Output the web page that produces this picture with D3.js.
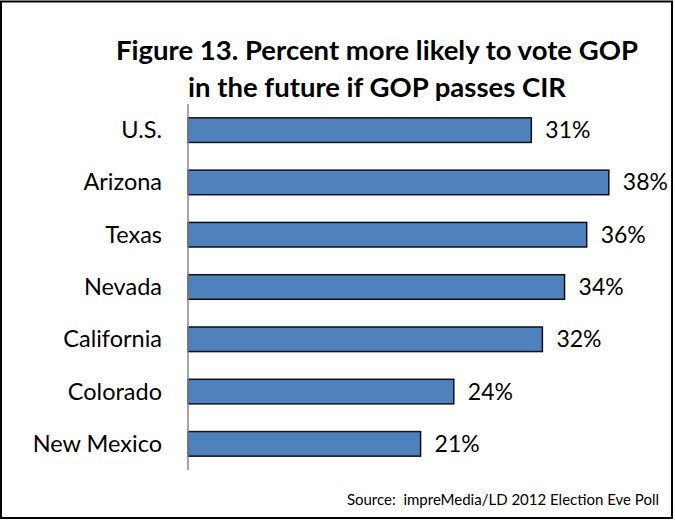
<!DOCTYPE html>
<html>
<head>
<meta charset="utf-8">
<script src="https://cdn.jsdelivr.net/npm/d3@7"></script>
<style>
  body { margin: 0; background: #fff; }
  svg text { font-family: Lato, "Open Sans", sans-serif; fill: #000; white-space: pre; }
</style>
</head>
<body>
<svg id="chart"></svg>
<script>
const categories = ["U.S.", "Arizona", "Texas", "Nevada", "California", "Colorado", "New Mexico"];
const values = [31, 38, 36, 34, 32, 24, 21];
const titleLines = ["Figure 13. Percent more likely to vote GOP", "in the future if GOP passes CIR"];
const sourceText = "Source:  impreMedia/LD 2012 Election Eve Poll";

const width = 675;
const height = 520;
const margin = { top: 104, right: 44, bottom: 50, left: 188 };

const svg = d3.select("#chart").attr("width", width).attr("height", height);

// outer frame
svg.append("rect")
  .attr("x", 1).attr("y", 1.5)
  .attr("width", width - 4).attr("height", height - 3.5)
  .attr("fill", "none").attr("stroke", "#000").attr("stroke-width", 2);

// title
svg.selectAll(".title")
  .data(titleLines)
  .enter()
  .append("text")
  .attr("class", "title")
  .attr("x", 377)
  .attr("y", (d, i) => 60 + i * 37)
  .attr("text-anchor", "middle")
  .style("font-size", "27.5px")
  .style("font-weight", "bold")
  .text((d) => d);

const x = d3.scaleLinear().domain([0, 40]).range([margin.left, margin.left + 443]);
const y = d3.scaleBand()
  .domain(categories)
  .range([margin.top, height - margin.bottom])
  .paddingInner(0.53)
  .paddingOuter(0.265);

// bars
svg.selectAll(".bar")
  .data(categories)
  .enter()
  .append("rect")
  .attr("class", "bar")
  .attr("x", x(0))
  .attr("y", (d) => y(d))
  .attr("width", (d, i) => x(values[i]) - x(0))
  .attr("height", y.bandwidth())
  .attr("fill", "#4F81BD")
  .attr("stroke", "#111")
  .attr("stroke-width", 1.5);

// value labels
svg.selectAll(".label")
  .data(categories)
  .enter()
  .append("text")
  .attr("class", "label")
  .attr("x", (d, i) => x(values[i]) + 14)
  .attr("y", (d) => y(d) + y.bandwidth() / 2 + 8)
  .style("font-size", "23px")
  .text((d, i) => values[i] + "%");

// y axis (line only, category labels)
const yAxis = svg.append("g")
  .attr("transform", `translate(${margin.left}, 0)`)
  .call(d3.axisLeft(y).tickSize(0).tickPadding(26));
yAxis.select(".domain").attr("stroke", "#888").attr("stroke-width", 1.5)
  .attr("d", `M0,${margin.top}V${height - margin.bottom}`);
yAxis.selectAll("text")
  .attr("dy", null)
  .attr("y", 8)
  .style("font-size", "23.5px")
  .style("font-family", "Lato, 'Open Sans', sans-serif")
  .attr("fill", "#000");

// source note
svg.append("text")
  .attr("x", 659)
  .attr("y", 505)
  .attr("text-anchor", "end")
  .style("font-size", "15px")
  .text(sourceText);
</script>
</body>
</html>
